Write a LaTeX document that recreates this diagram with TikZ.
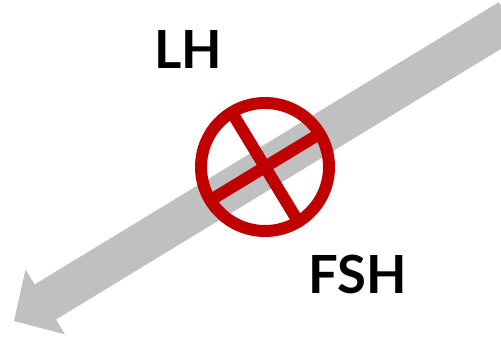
\documentclass[tikz,border=0pt]{standalone}
\usepackage{fontspec}
\setmainfont{Lato}
\definecolor{shaftgray}{RGB}{192,192,192}
\definecolor{stopred}{RGB}{192,0,0}
\tikzset{
  hormone/.style={font=\bfseries\fontsize{52.6}{52.6}\selectfont, inner sep=0pt, outer sep=0pt, text=black},
  stopring/.style={circle, draw=stopred, line width=12pt, minimum size=128pt, inner sep=0pt, outer sep=0pt},
  stopbar/.style={draw=stopred, line width=12pt, line cap=butt}
}
\begin{document}
\begin{tikzpicture}[x=1pt,y=1pt]
\useasboundingbox (0,0) rectangle (501,338);
\clip (0,0) rectangle (501,338);
% big gray arrow
\begin{scope}[shift={(14,17)}, rotate=31.3]
  \fill[shaftgray] (0,0) -- (36.6,38) -- (36.6,20.5) -- (580,20.5) -- (580,-20.5) -- (36.6,-20.5) -- (36.6,-38) -- cycle;
\end{scope}
% stop sign
\node[stopring] (ring) at (265,171) {};
\draw[stopbar] ([shift={(31.3:64)}]ring.center) -- ([shift={(211.3:64)}]ring.center);
\draw[stopbar] ([shift={(121.3:64)}]ring.center) -- ([shift={(301.3:64)}]ring.center);
% labels
\node[hormone] (lh) at (188,289) {LH};
\node[hormone] (fsh) at (357.5,64) {FSH};
\end{tikzpicture}
\end{document}
